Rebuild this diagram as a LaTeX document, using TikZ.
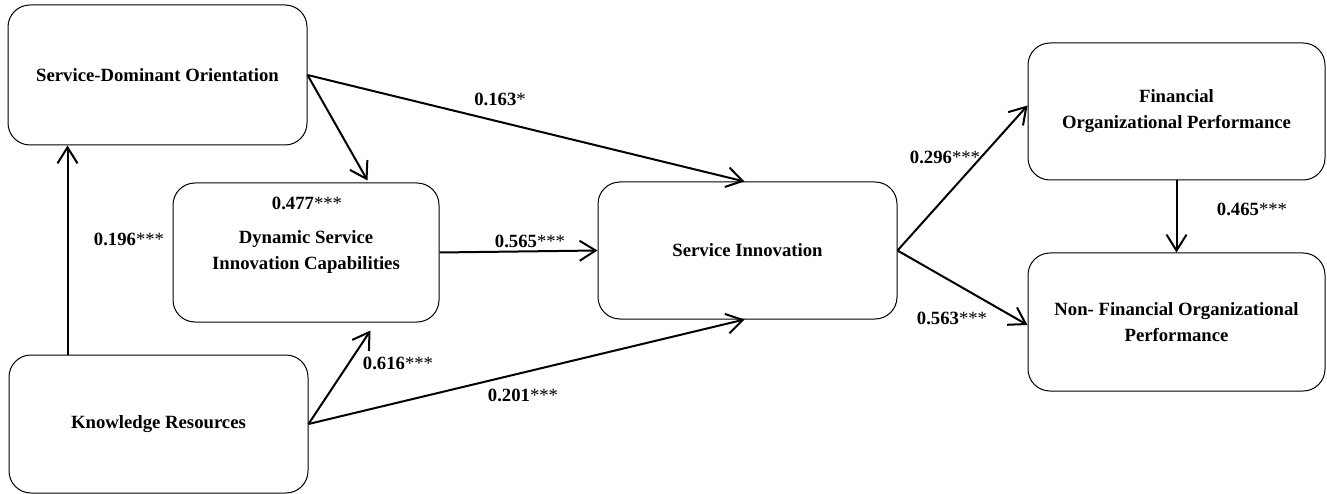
\documentclass[tikz,border=0pt]{standalone}
\usepackage{fontspec}
\setmainfont{Liberation Serif}
\usetikzlibrary{arrows.meta,calc}

\tikzset{
  construct/.style={draw, line width=1pt, rounded corners=22pt, align=center,
    inner sep=0pt, font=\fontsize{18.7}{26}\selectfont\bfseries},
  coef/.style={inner sep=0pt, font=\fontsize{18.7}{22}\selectfont},
  path/.style={line width=2pt, -{Straight Barb[length=16pt,width=20pt,line width=2pt]}},
}
\newcommand{\coefval}[2]{\textbf{#1}#2}

\begin{document}
\begin{tikzpicture}[x=1pt,y=-1pt]
\useasboundingbox (0,0) rectangle (1327,494);

% constructs
\node[construct, minimum width=299pt, minimum height=140pt] (sdo)    at (157.5,75)   {Service-Dominant Orientation};
\node[construct, minimum width=266pt, minimum height=139pt] (dsic)   at (306,252.5)  {Dynamic Service\\Innovation Capabilities};
\node[construct, minimum width=299pt, minimum height=138pt] (kr)     at (158.5,424)  {Knowledge Resources};
\node[construct, minimum width=299pt, minimum height=137pt] (si)     at (747.5,250.5){Service Innovation};
\node[construct, minimum width=297pt, minimum height=137pt] (fin)    at (1176.5,111.5){Financial\\Organizational Performance};
\node[construct, minimum width=297pt, minimum height=138pt] (nonfin) at (1176.5,322) {Non- Financial Organizational\\Performance};

% structural paths
\coordinate (krtop) at ([xshift=59pt]kr.north west);
\draw[path] (krtop) -- (krtop |- sdo.south);
\draw[path] (sdo.east) -- ([xshift=195pt,yshift=2pt]dsic.north west);
\draw[path] (sdo.east) -- ([xshift=-3pt]si.north);
\draw[path] (kr.east) -- ([xshift=198pt,yshift=-8pt]dsic.south west);
\draw[path] (kr.east) -- ([xshift=-3pt]si.south);
\draw[path] (dsic.east) -- (si.west);
\draw[path] (si.east) -- ([yshift=6pt]fin.west);
\draw[path] (si.east) -- ([yshift=-3pt]nonfin.west);
\draw[path] (fin.south) -- (nonfin.north);

% path coefficients
\node[coef] (c163) at (500,99)  {\coefval{0.163}{*}};
\node[coef] (c477) at (307,203) {\coefval{0.477}{***}};
\node[coef] (c196) at (129,239) {\coefval{0.196}{***}};
\node[coef] (c565) at (530,241) {\coefval{0.565}{***}};
\node[coef] (c616) at (398,363) {\coefval{0.616}{***}};
\node[coef] (c201) at (523,395) {\coefval{0.201}{***}};
\node[coef] (c296) at (945,157) {\coefval{0.296}{***}};
\node[coef] (c563) at (952,318) {\coefval{0.563}{***}};
\node[coef] (c465) at (1252,209){\coefval{0.465}{***}};
\end{tikzpicture}
\end{document}
